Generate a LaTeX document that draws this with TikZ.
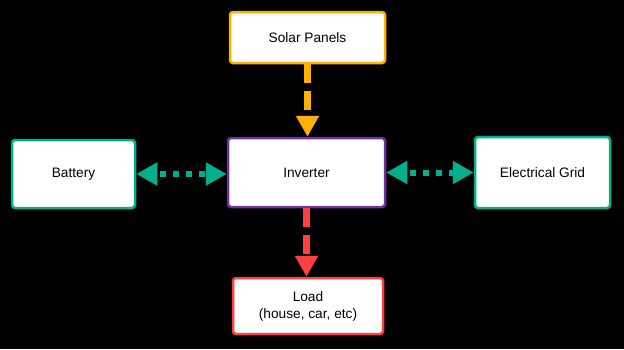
\documentclass[tikz,border=0pt]{standalone}
\usepackage{fontspec}
\setmainfont{Liberation Sans}
\usepackage{tikz}
\usetikzlibrary{arrows.meta, positioning, calc}
\definecolor{cSun}{RGB}{255,176,0}
\definecolor{cInv}{RGB}{112,48,160}
\definecolor{cTeal}{RGB}{0,176,140}
\definecolor{cLoad}{RGB}{255,64,64}
\tikzset{
	unit/.style  ={rectangle, rounded corners=3pt, line width=2.5pt, fill=white, align=center, text=black, inner sep=0pt},
	flow/.style  ={-{Triangle[width=22pt, length=21pt]}, line width=7pt, dash pattern=on 19pt off 8pt},
	link/.style  ={{Triangle[width=22pt, length=21pt]}-{Triangle[width=22pt, length=21pt]}, line width=6pt, cTeal, dash pattern=on 6pt off 7pt, dash phase=9pt},
}
\begin{document}
\begin{tikzpicture}[x=1pt, y=-1pt, font=\fontsize{13.7}{17}\selectfont]
	\fill[black] (0,0) rectangle (624,349);
	% boxes
	\node[unit, draw=cSun, minimum width=155pt, minimum height=51pt] (solar) at (307.5,37.5) {Solar Panels};
	\node[unit, draw=cInv, minimum width=157pt, minimum height=69pt] (inv) at (306.5,172.5) {Inverter};
	\node[unit, draw=cTeal, minimum width=123pt, minimum height=68pt] (bat) at (73.5,174) {Battery};
	\node[unit, draw=cTeal, minimum width=135pt, minimum height=71pt] (grid) at (542.5,172.5) {Electrical Grid};
	\node[unit, draw=cLoad, minimum width=150pt, minimum height=56pt] (load) at (308,306) {Load\\(house, car, etc)};
	% connectors
	\draw[flow, cSun] (solar.south) -- (solar.south |- inv.north);
	\draw[flow, cLoad] (inv.south) -- (load.north -| inv.south);
	\draw[link] (bat.east) -- (bat.east -| inv.west);
	\draw[link] (inv.east) -- (grid.west);
\end{tikzpicture}
\end{document}
